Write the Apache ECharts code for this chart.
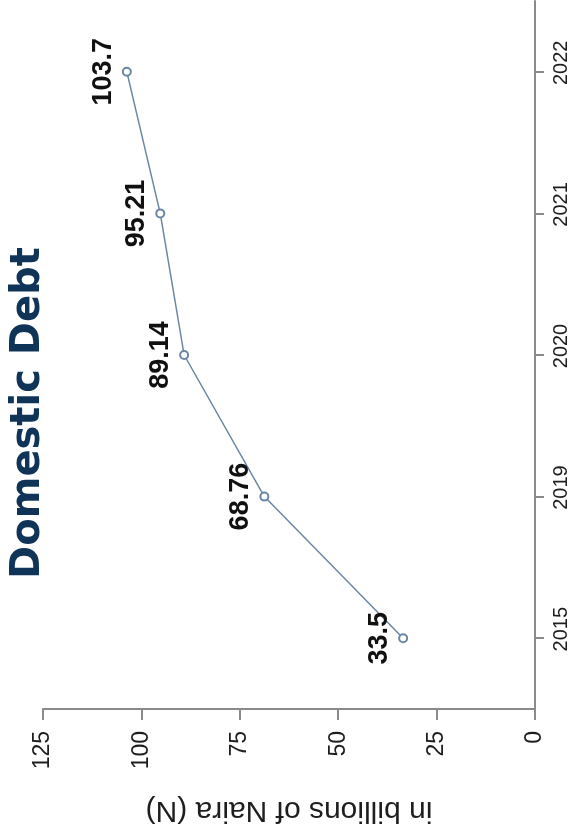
<!DOCTYPE html>
<html>
<head>
<meta charset="utf-8">
<style>
  html, body { margin: 0; padding: 0; background: #ffffff; }
  #chart { width: 577px; height: 830px; }
</style>
<script src="https://cdn.jsdelivr.net/npm/echarts@6/dist/echarts.min.js"></script>
</head>
<body>
<div id="chart"></div>
<script>
// Domestic debt, in billions of Naira, by year
const years = ['2015', '2019', '2020', '2021', '2022'];
const debtValues = [33.5, 68.76, 89.14, 95.21, 103.7];
const valueTicks = [0, 25, 50, 75, 100, 125];

const lineColor = '#6a87a6';
const axisColor = '#8a8a8a';
const textFont = '"Liberation Sans", Arial, sans-serif';

const chart = echarts.init(document.getElementById('chart'), null, { renderer: 'canvas' });

chart.setOption({
  backgroundColor: '#ffffff',
  animation: false,
  grid: { left: 43, right: 42, top: 1, bottom: 116, containLabel: false },
  graphic: [
    {
      type: 'text',
      x: 29,
      y: 413,
      rotation: Math.PI / 2,
      style: {
        text: 'Domestic Debt',
        fill: '#0f3458',
        font: 'bold 40px "DejaVu Sans", sans-serif',
        align: 'center',
        verticalAlign: 'middle'
      }
    }
  ],
  xAxis: {
    type: 'value',
    inverse: true,
    min: valueTicks[0],
    max: valueTicks[valueTicks.length - 1],
    interval: 25,
    position: 'bottom',
    name: 'in billions of Naira (N)',
    nameLocation: 'middle',
    nameRotate: 180,
    nameGap: 86,
    nameTextStyle: { fontFamily: textFont, fontSize: 30, color: '#1e1e1e' },
    axisLine: { show: true, lineStyle: { color: axisColor, width: 2 } },
    axisTick: { show: true, length: 11, lineStyle: { color: axisColor, width: 2 } },
    axisLabel: { rotate: 90, margin: 22, fontFamily: textFont, fontSize: 23, color: '#1e1e1e' },
    splitLine: { show: false }
  },
  yAxis: {
    type: 'category',
    data: years,
    position: 'right',
    boundaryGap: true,
    axisLine: { show: true, lineStyle: { color: axisColor, width: 2 } },
    axisTick: { show: true, alignWithLabel: true, length: 9, lineStyle: { color: axisColor, width: 2 } },
    axisLabel: {
      rotate: 90,
      margin: 16,
      align: 'center',
      verticalAlign: 'top',
      padding: [0, 0, 0, 18],
      fontFamily: textFont,
      fontSize: 20,
      color: '#1e1e1e'
    },
    splitLine: { show: false }
  },
  series: [
    {
      type: 'line',
      data: debtValues,
      symbol: 'emptyCircle',
      symbolSize: 8,
      lineStyle: { color: lineColor, width: 1.5 },
      itemStyle: { color: lineColor, borderWidth: 1.5 },
      label: {
        show: true,
        position: 'left',
        distance: 5,
        rotate: 90,
        align: 'center',
        verticalAlign: 'bottom',
        fontFamily: textFont,
        fontWeight: 'bold',
        fontSize: 27,
        color: '#111111'
      }
    }
  ]
});
</script>
</body>
</html>
